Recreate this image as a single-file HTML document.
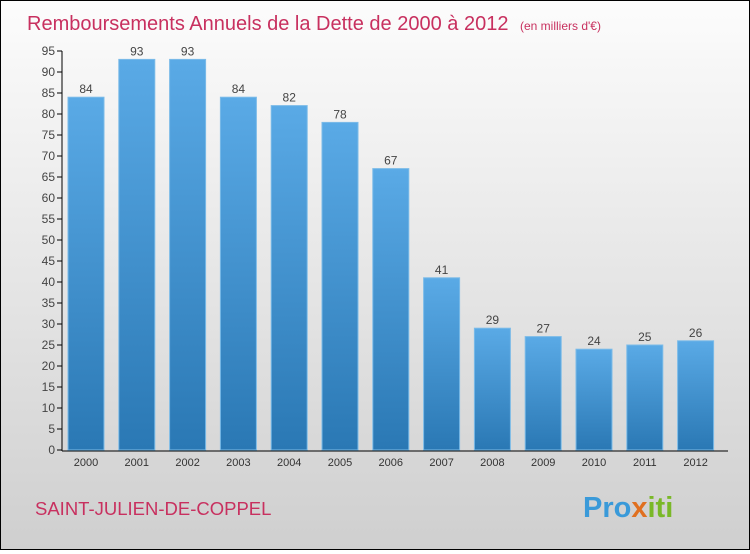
<!DOCTYPE html>
<html><head><meta charset="utf-8"><style>
body{margin:0;width:750px;height:550px;overflow:hidden}
#wrap{position:relative;width:748px;height:548px;border:1px solid #000;background:linear-gradient(#fcfcfc,#e6e6e6 50%,#cfcfcf);font-family:"Liberation Sans",sans-serif}
</style></head><body>
<div id="wrap">
<svg width="748" height="548" id="svg">
<defs><linearGradient id="bg" x1="0" y1="0" x2="0" y2="1"><stop offset="0" stop-color="#5aaae6"/><stop offset="1" stop-color="#2a78b4"/></linearGradient></defs>
<text x="26" y="29" font-size="20" fill="#c8305f" font-weight="300">Remboursements Annuels de la Dette de 2000 à 2012 <tspan font-size="12" dx="6">(en milliers d'€)</tspan></text>
<text x="34" y="514" font-size="18.5" fill="#c8305f">SAINT-JULIEN-DE-COPPEL</text>
<text x="582" y="516" font-size="29" font-weight="bold" fill="#3a9ad9">Pro<tspan fill="#e07020">x</tspan><tspan fill="#7ab828">iti</tspan></text>
<g id="g"></g>
</svg></div>
<script>
const categories=["2000","2001","2002","2003","2004","2005","2006","2007","2008","2009","2010","2011","2012"];
const values=[84,93,93,84,82,78,67,41,29,27,24,25,26];
const ticks=[0,5,10,15,20,25,30,35,40,45,50,55,60,65,70,75,80,85,90,95];
const NS="http://www.w3.org/2000/svg";
const g=document.getElementById("g");
const y0=449,ppu=(449-50)/95;
const y=v=>y0-v*ppu;
const x=i=>85+i*50.8;
function mk(t,a){const e=document.createElementNS(NS,t);for(const k in a)e.setAttribute(k,a[k]);g.appendChild(e);return e;}
ticks.forEach(t=>{
 const l=mk("line",{x1:56,x2:61,y1:y(t),y2:y(t),stroke:"#000"});
 
 
 const tx=mk("text",{x:54,y:y(t)+4,"text-anchor":"end","font-size":12,fill:"#444"});
 tx.textContent=t;
 
 
});
values.forEach((v,i)=>{
 const r=mk("rect",{x:x(i)-18,y:y(v),width:36,height:y0-y(v),fill:"url(#bg)",stroke:"#7bbbe8","stroke-width":1});
 
 
 const t=mk("text",{x:x(i),y:y(v)-4,"text-anchor":"middle","font-size":12,fill:"#444"});
 t.textContent=v;
 
 
 const c=mk("text",{x:x(i),y:y0+16,"text-anchor":"middle","font-size":11,fill:"#333"});
 c.textContent=categories[i];
 
 
});
const ya=mk("line",{x1:61,x2:61,y1:y(95),y2:y0+1,stroke:"#000"});


const xa=mk("line",{x1:61,x2:727,y1:y0+1,y2:y0+1,stroke:"#000"});


</script>
</body></html>
